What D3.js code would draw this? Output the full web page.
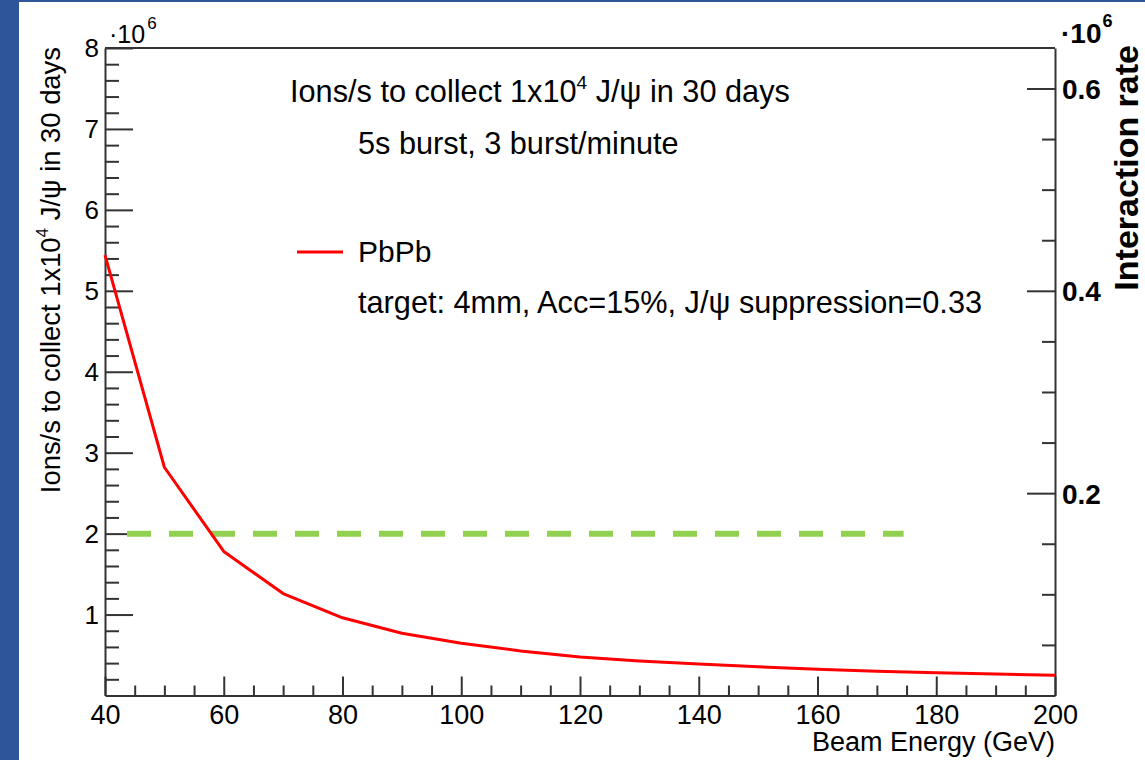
<!DOCTYPE html>
<html>
<head>
<meta charset="utf-8">
<script src="https://cdn.jsdelivr.net/npm/d3@7"></script>
<style>
  html, body { margin: 0; padding: 0; background: #fff; }
  svg { display: block; }
  text { font-family: "Liberation Sans", Arial, sans-serif; fill: #000; }
</style>
</head>
<body>
<svg id="chart" width="1145" height="760"></svg>
<script>
// ---- data ----
const energies = [40, 50, 60, 70, 80, 90, 100, 110, 120, 130, 140, 150, 160, 170, 180, 190, 200];
const ionsPerSec = [5.44, 2.82, 1.78, 1.26, 0.96, 0.77, 0.645, 0.55, 0.475, 0.425, 0.39, 0.355, 0.325, 0.30, 0.28, 0.265, 0.25]; // x10^6
const thresholdValue = [2];
const thresholdRange = [43.7, 174.5];
const xTicks = [40, 60, 80, 100, 120, 140, 160, 180, 200];
const yLeftTicks = [1, 2, 3, 4, 5, 6, 7, 8];
const yRightTicks = [0.2, 0.4, 0.6];
const seriesName = "PbPb";

const svg = d3.select("#chart");
const W = 1145, H = 760;
svg.append("rect").attr("width", W).attr("height", H).attr("fill", "#fff");
// slide frame
svg.append("rect").attr("x", 0).attr("y", 0).attr("width", 19).attr("height", H).attr("fill", "#2e5597");
svg.append("rect").attr("x", 0).attr("y", 0).attr("width", W).attr("height", 2).attr("fill", "#2e5597");

const L = 105, R = 1055, T = 48, B = 695.5;
const x = d3.scaleLinear().domain([40, 200]).range([L, R]);
const yL = d3.scaleLinear().domain([0, 8]).range([B, T]);
const yR = d3.scaleLinear().domain([0, 0.64]).range([B, T]);

const axisColor = "#333";

// minor ticks helpers
const xMinor = d3.range(45, 200, 5).filter(v => v % 20 !== 0);
const yLMinor = d3.range(1, 40).map(i => i * 0.2).filter(v => Math.abs(v - Math.round(v)) > 1e-6);
const yRMinor = d3.range(1, 13).map(i => i * 0.05).filter(v => Math.abs(v * 5 - Math.round(v * 5)) > 1e-6);

function styleAxis(g) {
  g.selectAll("path.domain").attr("stroke", axisColor).attr("stroke-width", 2);
  g.selectAll(".tick line").attr("stroke", axisColor).attr("stroke-width", 2);
}

// X axis
const gx = svg.append("g").attr("transform", `translate(0,${B})`)
  .call(d3.axisBottom(x).tickValues(xTicks).tickSizeInner(-19).tickSizeOuter(0).tickPadding(10).tickFormat(d3.format("d")));
styleAxis(gx);
gx.selectAll(".tick text").attr("font-size", 27).attr("dy", null).attr("y", 28);
svg.append("g").attr("transform", `translate(0,${B})`)
  .call(d3.axisBottom(x).tickValues(xMinor).tickSizeInner(-10).tickSizeOuter(0).tickFormat(""))
  .call(g => g.select("path.domain").remove())
  .call(styleAxis);

// Left Y axis
const gyl = svg.append("g").attr("transform", `translate(${L},0)`)
  .call(d3.axisLeft(yL).tickValues(yLeftTicks).tickSizeInner(-28).tickSizeOuter(0).tickPadding(6).tickFormat(d3.format("d")));
styleAxis(gyl);
gyl.selectAll(".tick text").attr("font-size", 26).attr("dy", "0.34em");
svg.append("g").attr("transform", `translate(${L},0)`)
  .call(d3.axisLeft(yL).tickValues(yLMinor).tickSizeInner(-14).tickSizeOuter(0).tickFormat(""))
  .call(g => g.select("path.domain").remove())
  .call(styleAxis);

// Right Y axis
const gyr = svg.append("g").attr("transform", `translate(${R},0)`)
  .call(d3.axisRight(yR).tickValues(yRightTicks).tickSizeInner(-28).tickSizeOuter(0).tickPadding(7).tickFormat(d3.format(".1f")));
styleAxis(gyr);
gyr.selectAll(".tick text").attr("font-size", 28).attr("font-weight", "bold").attr("dy", "0.36em");
svg.append("g").attr("transform", `translate(${R},0)`)
  .call(d3.axisRight(yR).tickValues(yRMinor).tickSizeInner(-13).tickSizeOuter(0).tickFormat(""))
  .call(g => g.select("path.domain").remove())
  .call(styleAxis);

// top frame line
svg.append("line").attr("x1", L).attr("x2", R).attr("y1", T).attr("y2", T)
  .attr("stroke", axisColor).attr("stroke-width", 2);

// exponent labels
const expL = svg.append("text").attr("x", 109).attr("y", 43).attr("font-size", 25);
expL.append("tspan").text("\u00B710");
expL.append("tspan").attr("font-size", 17).attr("dy", -14).attr("dx", 2).text("6");
const expR = svg.append("text").attr("x", 1061).attr("y", 43).attr("font-size", 28).attr("font-weight", "bold");
expR.append("tspan").text("\u00B710");
expR.append("tspan").attr("font-size", 18).attr("dy", -16).attr("dx", 1).text("6");

// axis titles
svg.append("text").attr("x", R).attr("y", 751).attr("text-anchor", "end").attr("font-size", 27)
  .text("Beam Energy (GeV)");

const tl = svg.append("text").attr("transform", `translate(60,${T - 1}) rotate(-90)`)
  .attr("text-anchor", "end").attr("font-size", 27.4);
tl.append("tspan").text("Ions/s to collect 1x10");
tl.append("tspan").attr("font-size", 17).attr("dy", -12).text("4");
tl.append("tspan").attr("dy", 12).text(" J/\u03C8 in 30 days");

svg.append("text").attr("transform", `translate(1138,${T - 3}) rotate(-90)`)
  .attr("text-anchor", "end").attr("font-size", 34).attr("font-weight", "bold")
  .text("Interaction rate");

// threshold dashed line
svg.append("g").selectAll("line").data(thresholdValue).join("line")
  .attr("x1", x(thresholdRange[0])).attr("x2", x(thresholdRange[1]))
  .attr("y1", d => yL(d)).attr("y2", d => yL(d))
  .attr("stroke", "#92d050").attr("stroke-width", 6).attr("stroke-dasharray", "24,18");

// curve
const line = d3.line().x((d, i) => x(energies[i])).y(d => yL(d));
svg.append("path").datum(ionsPerSec).attr("d", line)
  .attr("fill", "none").attr("stroke", "#ff0000").attr("stroke-width", 3).attr("stroke-linejoin", "round");

// annotations
const a1 = svg.append("text").attr("x", 290).attr("y", 102).attr("font-size", 30.7);
a1.append("tspan").text("Ions/s to collect 1x10");
a1.append("tspan").attr("font-size", 19).attr("dy", -13).text("4");
a1.append("tspan").attr("dy", 13).text(" J/\u03C8 in 30 days");
svg.append("text").attr("x", 358).attr("y", 154).attr("font-size", 30.7).text("5s burst, 3 burst/minute");

// legend
svg.append("line").attr("x1", 297).attr("x2", 343).attr("y1", 252).attr("y2", 252)
  .attr("stroke", "#ff0000").attr("stroke-width", 3);
svg.append("text").attr("x", 358).attr("y", 262).attr("font-size", 30).text(seriesName);
svg.append("text").attr("x", 358).attr("y", 313).attr("font-size", 30.7)
  .text("target: 4mm, Acc=15%, J/\u03C8 suppression=0.33");
</script>
</body>
</html>
